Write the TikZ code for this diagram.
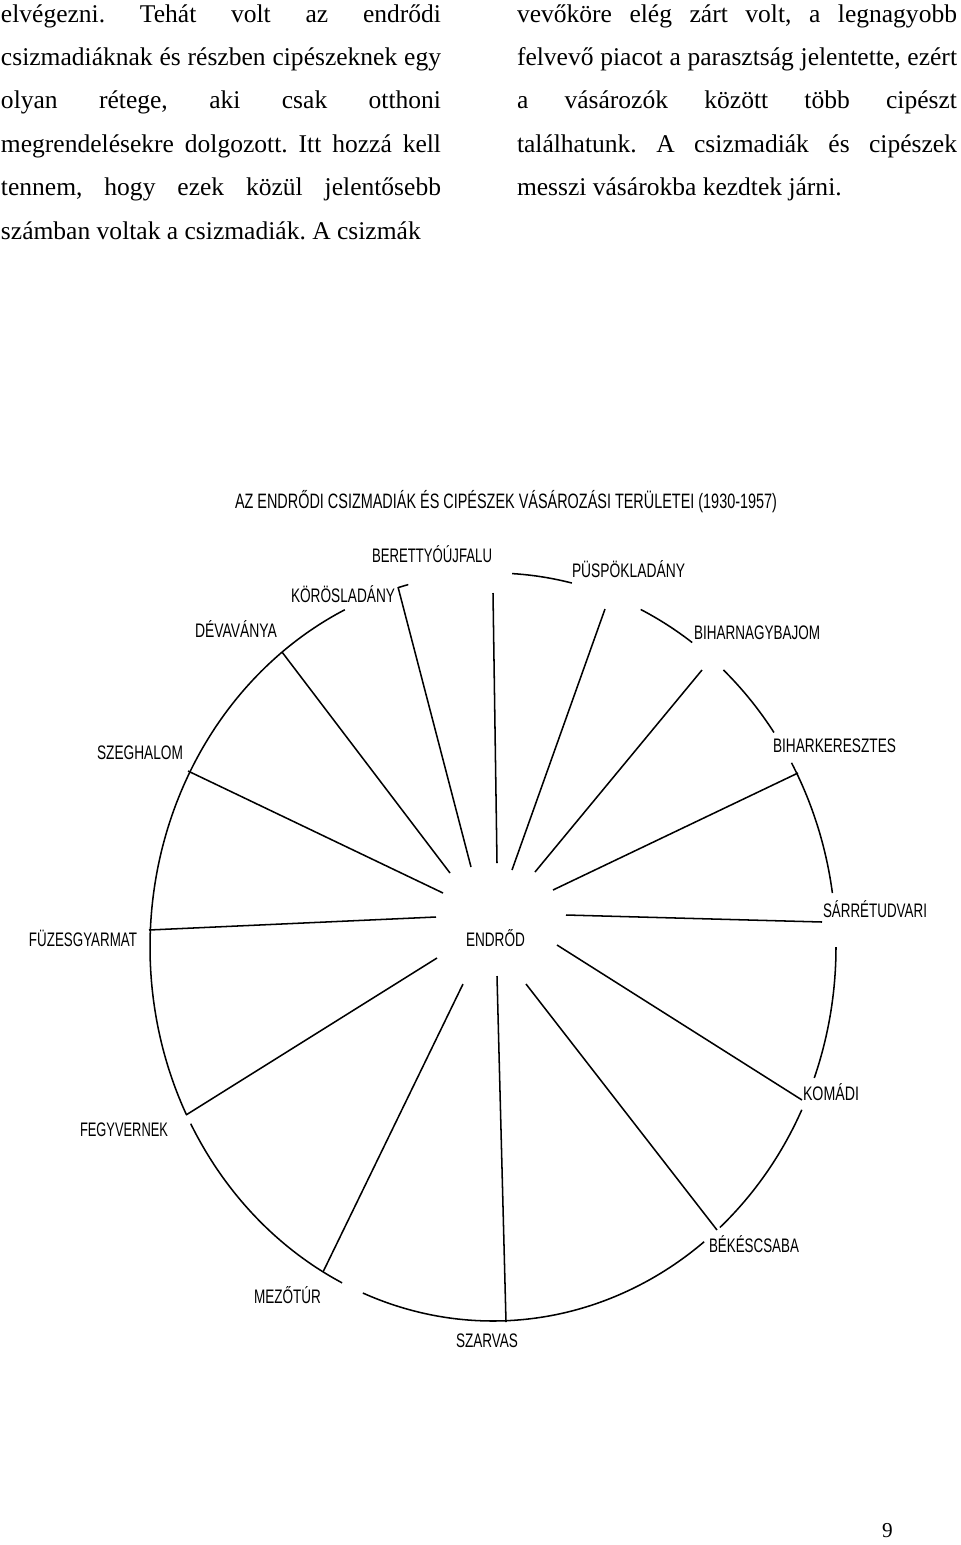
\documentclass[tikz,border=0pt]{standalone}
\usepackage{fontspec}
\usepackage{graphicx}
\setmainfont{Liberation Serif}
\newfontfamily\labfont[FakeStretch=0.72]{Liberation Sans}
\frenchspacing
\newlength\pxu
\setlength\pxu{0.47pt}
\newcommand\lbl[3]{\resizebox{#2\pxu}{\height}{\fontsize{#1pt}{#1pt}\labfont #3}}
\newcommand\jline[1]{\fontsize{12pt}{14pt}\selectfont\makebox[440\pxu][s]{#1}}
\newcommand\fline[1]{\fontsize{12pt}{14pt}\selectfont #1}
\tikzset{
  txt/.style={anchor=base west, inner sep=0pt, outer sep=0pt},
  lab/.style={anchor=base west, inner sep=0pt, outer sep=0pt},
  spoke/.style={line width=0.72pt, black},
  ring/.style={line width=0.72pt, black},
}
\newcommand\ringarc[2]{\draw[ring] plot[domain=#1:#2, samples=60, smooth] ({493+343*cos(\x)},{947+374*sin(\x)});}
\begin{document}
\begin{tikzpicture}[x=0.47pt,y=-0.47pt]
\useasboundingbox (0,0) rectangle (960,1545);
% ---- body text, left column
\node[txt] (l1) at (1,22)  {\jline{elvégezni. Tehát volt az endrődi}};
\node[txt] (l2) at (1,65.4)  {\jline{csizmadiáknak és részben cipészeknek egy}};
\node[txt] (l3) at (1,108.8) {\jline{olyan rétege, aki csak otthoni}};
\node[txt] (l4) at (1,152.2) {\jline{megrendelésekre dolgozott. Itt hozzá kell}};
\node[txt] (l5) at (1,195.6) {\jline{tennem, hogy ezek közül jelentősebb}};
\node[txt] (l6) at (1,239)   {\fline{számban voltak a csizmadiák. A csizmák}};
% ---- body text, right column
\node[txt] (r1) at (517,22)    {\jline{vevőköre elég zárt volt, a legnagyobb}};
\node[txt] (r2) at (517,65.4)  {\jline{felvevő piacot a parasztság jelentette, ezért}};
\node[txt] (r3) at (517,108.8) {\jline{a vásározók között több cipészt}};
\node[txt] (r4) at (517,152.2) {\jline{találhatunk. A csizmadiák és cipészek}};
\node[txt] (r5) at (517,195.6) {\fline{messzi vásárokba kezdtek járni.}};
% ---- page number
\node[txt] (pg) at (882,1537) {\fontsize{10pt}{12pt}\selectfont 9};
% ---- title and labels
\node[lab] (title) at (235,508) {\lbl{9.8}{542}{AZ ENDRŐDI CSIZMADIÁK ÉS CIPÉSZEK VÁSÁROZÁSI TERÜLETEI (1930-1957)}};
\node[lab] (ber) at (372,562)  {\lbl{9.2}{120}{BERETTYÓÚJFALU}};
\node[lab] (pus) at (572,577)  {\lbl{9.2}{113}{PÜSPÖKLADÁNY}};
\node[lab] (kor) at (291,602)  {\lbl{9.2}{104}{KÖRÖSLADÁNY}};
\node[lab] (dev) at (195,637)  {\lbl{9.2}{82}{DÉVAVÁNYA}};
\node[lab] (bnb) at (694,639)  {\lbl{9.2}{126}{BIHARNAGYBAJOM}};
\node[lab] (szg) at (97,759)   {\lbl{9.2}{86}{SZEGHALOM}};
\node[lab] (bkr) at (773,752)  {\lbl{9.2}{123}{BIHARKERESZTES}};
\node[lab] (sar) at (823,917)  {\lbl{9.2}{104}{SÁRRÉTUDVARI}};
\node[lab] (fuz) at (29,946)   {\lbl{9.2}{108}{FÜZESGYARMAT}};
\node[lab] (end) at (466,946)  {\lbl{9.2}{59}{ENDRŐD}};
\node[lab] (kom) at (803,1100) {\lbl{9.2}{56}{KOMÁDI}};
\node[lab] (feg) at (80,1136)  {\lbl{9.2}{88}{FEGYVERNEK}};
\node[lab] (bek) at (709,1252) {\lbl{9.2}{90}{BÉKÉSCSABA}};
\node[lab] (mez) at (254,1303) {\lbl{9.2}{67}{MEZŐTÚR}};
\node[lab] (szv) at (456,1347) {\lbl{9.2}{62}{SZARVAS}};
% ---- spoke end points
\coordinate (a1) at (450,873);  \coordinate (b1) at (282,652);
\coordinate (a2) at (471,867);  \coordinate (b2) at (398,587);
\coordinate (a3) at (497,863);  \coordinate (b3) at (493,593);
\coordinate (a4) at (512,870);  \coordinate (b4) at (605,609);
\coordinate (a5) at (535,872);  \coordinate (b5) at (702,670);
\coordinate (a6) at (553,890);  \coordinate (b6) at (798,773);
\coordinate (a7) at (566,915);  \coordinate (b7) at (822,922);
\coordinate (a8) at (557,945);  \coordinate (b8) at (802,1100);
\coordinate (a9) at (526,984);  \coordinate (b9) at (717,1230);
\coordinate (a10) at (497,976); \coordinate (b10) at (506,1322);
\coordinate (a11) at (463,984); \coordinate (b11) at (323,1272);
\coordinate (a12) at (437,958); \coordinate (b12) at (186,1115);
\coordinate (a13) at (436,917); \coordinate (b13) at (149,930);
\coordinate (a14) at (443,893); \coordinate (b14) at (188,771);
\foreach \i in {1,...,14} { \draw[spoke] (a\i) -- (b\i); }
% ---- ring (ellipse with gaps)
\ringarc{153.4}{244.4}
\ringarc{116.1}{151.8}
\ringarc{52.0}{112.3}
\ringarc{25.8}{48.6}
\ringarc{0}{20.5}
\ringarc{330.5}{351.7}
\ringarc{312.2}{325.0}
\ringarc{295.5}{305.5}
\ringarc{273.2}{283.3}
\ringarc{254.0}{255.7}
\end{tikzpicture}
\end{document}
